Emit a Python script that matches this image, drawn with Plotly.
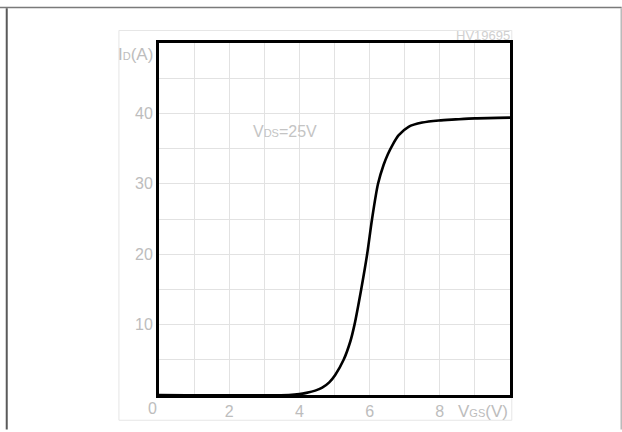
import plotly.graph_objects as go

# ---- data ----
vgs = [0, 3.7, 4.0, 4.2, 4.45, 4.65, 4.85, 5.02, 5.26, 5.45, 5.57, 5.76, 5.93, 6.07,
       6.24, 6.40, 6.52, 6.64, 6.83, 7.11, 7.5, 7.97, 8.45, 9.0, 10.0]
id_a = [0, 0, 0.12, 0.3, 0.62, 1.05, 1.8, 2.85, 5.0, 7.6, 10.0, 15.0, 20.0, 25.0,
        30.0, 32.7, 34.2, 35.4, 36.9, 38.1, 38.7, 39.0, 39.15, 39.3, 39.4]

x_ticks = [0, 1, 2, 3, 4, 5, 6, 7, 8, 9, 10]
x_labels = ["", "", "2", "", "4", "", "6", "", "8", "", ""]
y_ticks = [0, 5, 10, 15, 20, 25, 30, 35, 40, 45, 50]
y_labels = ["", "", "10", "", "20", "", "30", "", "40", "", ""]

W, H = 622, 432
L, R, T, B = 159.3, 509.7, 43.3, 397.3


def px(xp):
    return (xp - L) / (R - L)


def py(yp):
    return (B - yp) / (B - T)


FONT = "Liberation Sans"
LABEL_C = "#bdbdbd"

fig = go.Figure()
fig.add_trace(go.Scatter(
    x=vgs, y=id_a, mode="lines",
    line=dict(color="black", width=2.6, shape="spline", smoothing=0.8),
    hoverinfo="skip", showlegend=False,
))

fig.update_layout(
    width=W, height=H, autosize=False,
    margin=dict(l=L, r=W - R, t=T, b=H - B, pad=0),
    paper_bgcolor="white", plot_bgcolor="white",
    font=dict(family=FONT, size=16, color=LABEL_C),
    xaxis=dict(range=[0, 10], tickvals=x_ticks, ticktext=x_labels,
               showgrid=True, gridcolor="#e2e2e2", gridwidth=1,
               zeroline=False, showline=True, mirror=True,
               linecolor="black", linewidth=3, ticks="",
               tickfont=dict(size=16, color=LABEL_C), fixedrange=True),
    yaxis=dict(range=[0, 50], tickvals=y_ticks, ticktext=y_labels,
               showgrid=True, gridcolor="#e2e2e2", gridwidth=1,
               zeroline=False, showline=True, mirror=True,
               linecolor="black", linewidth=3, ticks="",
               tickfont=dict(size=16, color=LABEL_C), fixedrange=True),
)

shapes = [
    # inner light frame
    dict(type="rect", xref="paper", yref="paper",
         x0=px(119.3), x1=px(511.5), y0=py(422.7), y1=py(30.7),
         line=dict(color="#e6e6e6", width=1), layer="below"),
    # outer page lines
    dict(type="rect", xref="paper", yref="paper",
         x0=px(0), x1=px(621.2), y0=py(8.4), y1=py(6.8),
         line=dict(width=0), fillcolor="#7a7a7a", layer="above"),
    dict(type="rect", xref="paper", yref="paper",
         x0=px(6.3), x1=px(8.3), y0=py(432), y1=py(8.4),
         line=dict(width=0), fillcolor="#5a5a5a", layer="above"),
    dict(type="rect", xref="paper", yref="paper",
         x0=px(620.1), x1=px(621.3), y0=py(432), y1=py(8.4),
         line=dict(width=0), fillcolor="#a8a8a8", layer="above"),
]
fig.update_layout(shapes=shapes)

sub = "<span style='font-size:11px'>{}</span>"
ann = [
    dict(text="I" + sub.format("D") + "(A)", xref="paper", yref="paper",
         x=px(155.5), y=py(55), xanchor="right", yanchor="middle",
         font=dict(size=17, color=LABEL_C)),
    dict(text="V" + sub.format("GS") + "(V)", xref="paper", yref="paper",
         x=px(509.5), y=py(414), xanchor="right", yanchor="middle",
         font=dict(size=17, color=LABEL_C)),
    dict(text="V" + sub.format("DS") + "=25V", xref="x", yref="y",
         x=2.61, y=37.4, xanchor="left", yanchor="middle",
         font=dict(size=16, color="#c4c4c4")),
    dict(text="HV19695", xref="paper", yref="paper",
         x=px(511.5), y=py(35.5), xanchor="right", yanchor="middle",
         font=dict(size=13, color="#d0d0d0")),
    dict(text="0", xref="paper", yref="paper",
         x=px(153.3), y=py(410.5), xanchor="center", yanchor="middle",
         font=dict(size=16, color=LABEL_C)),
]
for a in ann:
    a["showarrow"] = False
fig.update_layout(annotations=ann)

fig.write_html(
    "out.html",
    config={"displayModeBar": False},
    post_script="document.body.style.margin='0';document.body.style.padding='0';"
                "document.body.style.overflow='hidden';",
)
